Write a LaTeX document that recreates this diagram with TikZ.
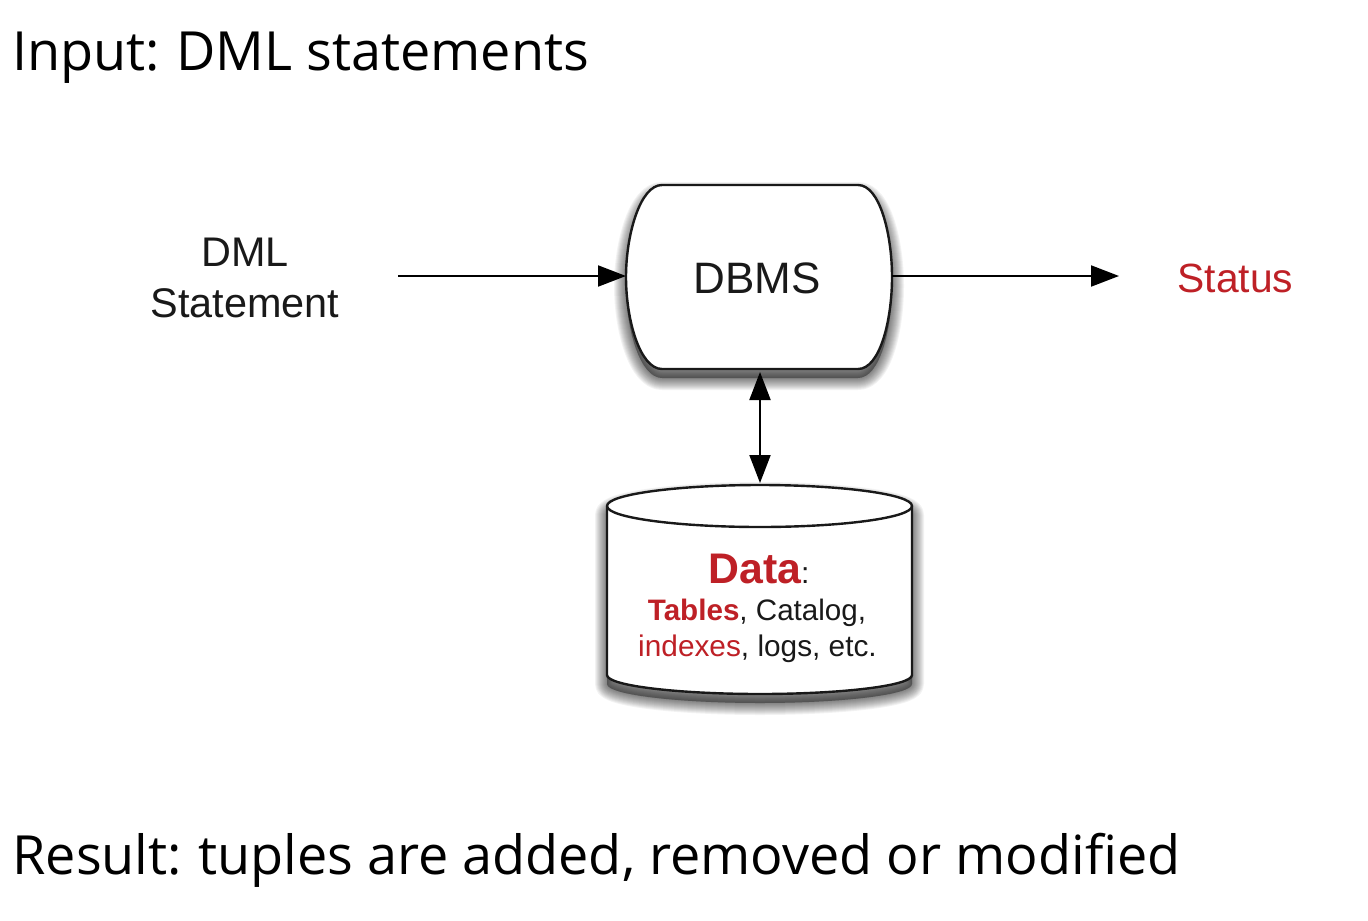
\documentclass[tikz,border=0pt]{standalone}
\usepackage{fontspec}
\setmainfont{Liberation Sans}
\newfontfamily\headfont{Open Sans}
\usetikzlibrary{arrows.meta}
\definecolor{dbred}{RGB}{190,32,38}
\definecolor{inkc}{RGB}{25,25,25}
\tikzset{
  x=0.5pt,y=-0.5pt,
  heading/.style={anchor=base west,inner sep=0pt,font=\headfont\fontsize{27pt}{33pt}\selectfont,text=black},
  label/.style={align=center,inner sep=0pt,text=inkc},
  anchorbox/.style={rectangle,inner sep=0pt,outer sep=0pt,minimum width=#1},
  outline/.style={draw=black!90,line width=1.2pt,fill=white,line join=round},
  flow/.style={draw=black,line width=1pt,-{Triangle[length=14pt,width=10.5pt]}},
  flowboth/.style={draw=black,line width=1pt,{Triangle[length=14pt,width=10.5pt]}-{Triangle[length=14pt,width=10.5pt]}},
}
\newcommand{\dbmspath}{(662,185) -- (858,185) .. controls (880,185) and (892,235) .. (892,277) .. controls (892,320) and (880,369) .. (858,369) -- (662,369) .. controls (640,369) and (626,320) .. (626,277) .. controls (626,235) and (640,185) .. (662,185) -- cycle}
\newcommand{\cylpath}{(607,506) -- (607,675) .. controls (607,686) and (680,694) .. (760,694) .. controls (840,694) and (912,686) .. (912,675) -- (912,506) .. controls (912,494) and (840,485) .. (760,485) .. controls (680,485) and (607,494) .. (607,506) -- cycle}
\begin{document}
\begin{tikzpicture}
\useasboundingbox (0,0) rectangle (1368,920);
% soft shadows
\foreach \g in {24,22,20,18,16,14,12,10,8,6,4,2}{
  \begin{scope}[yshift=-4.5pt]
  \path[fill=black,fill opacity=0.04,draw=black,draw opacity=0.05,line join=round,line width=\g*0.5pt] \dbmspath;
  \path[fill=black,fill opacity=0.04,draw=black,draw opacity=0.05,line join=round,line width=\g*0.5pt] \cylpath;
  \end{scope}
}
\path[outline] \dbmspath;
\path[outline] \cylpath;
\draw[black!90,line width=1.2pt] (607,506) .. controls (607,518) and (680,527) .. (760,527) .. controls (840,527) and (912,518) .. (912,506);
% heading text
\node[heading] (input) at (12,71) {Input:\kern1pt\ DML statements};
\node[heading] (result) at (12,874) {Result:\kern1pt\ tuples are added, removed or modified};
% nodes
\node[anchorbox=133pt,minimum height=92pt] (dbms) at (759,277) {};
\node[inner sep=0pt,anchor=base,text=inkc,font=\fontsize{22pt}{26pt}\selectfont] (dbmstext) at (757,293) {DBMS};
\node[anchorbox=152.5pt,minimum height=104.5pt] (data) at (760,589.5) {};
\node[label,font=\fontsize{20.7pt}{25.5pt}\selectfont] (dml) at (245,278) {DML\\Statement};
\node[anchor=base,inner sep=0pt,text=dbred,font=\fontsize{20.4pt}{24pt}\selectfont] (status) at (1235.5,292) {Status};
\node[anchor=base,inner sep=0pt,text=inkc,font=\fontsize{21.4pt}{25pt}\selectfont] (title) at (759,583) {\textcolor{dbred}{\bfseries Data}{\fontsize{15pt}{17pt}\selectfont:}};
\node[anchor=base,inner sep=0pt,text=inkc,font=\fontsize{14.8pt}{18pt}\selectfont] (l1) at (757,620) {\textcolor{dbred}{\bfseries Tables}, Catalog,};
\node[anchor=base,inner sep=0pt,text=inkc,font=\fontsize{14.9pt}{18pt}\selectfont] (l2) at (757.5,656) {\textcolor{dbred}{indexes}, logs, etc.};
% connectors
\coordinate (instart) at (398,276);
\coordinate (outend) at (1119,276);
\coordinate (vtop) at (760,372);
\coordinate (vbot) at (760,483);
\draw[flow] (instart) -- (dbms.west |- instart);
\draw[flow] (dbms.east |- outend) -- (outend);
\draw[flowboth] (vtop) -- (vbot);
\end{tikzpicture}
\end{document}
